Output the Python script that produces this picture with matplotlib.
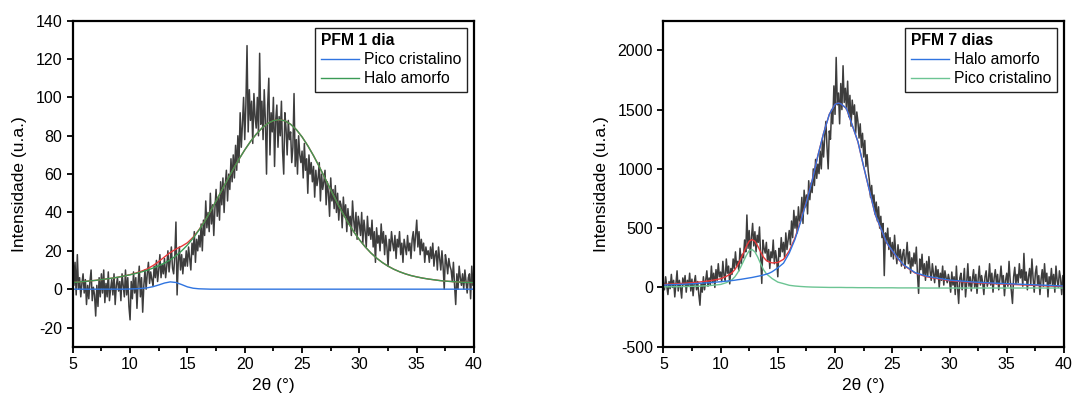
import numpy as np
import matplotlib.pyplot as plt

plt.rcParams['font.family'] = ['Liberation Sans', 'DejaVu Sans']
plt.rcParams['axes.unicode_minus'] = False

# ---- PFM 1 dia : raw pattern, 5-40 deg, step 0.1 ----
data1 = [
    22, 2, 14, -3, 18, 0, 6, -4, 3, 8,
    -2, 5, -8, 2, -5, 4, 10, -6, 1, -3,
    -14, 2, -9, 6, -4, 8, -2, 10, -7, 3,
    -4, 9, -6, 0, 5, -3, 8, -8, 2, 6,
    -1, 4, -6, 8, 2, -4, 10, -3, 6, -9,
    -16, 4, -5, 9, -2, 6, -10, 3, 12, -4,
    6, -12, 2, 10, 0, 8, 14, 3, 9, 5,
    2, 12, 6, 15, 4, 10, 18, 6, 13, 8,
    16, 6, 12, 20, 9, 15, 22, 11, 8, 17,
    35, -3, 14, 22, 10, 18, 8, 16, 12, 20,
    12, 22, 16, 10, 24, 18, 30, 14, 26, 20,
    28, 22, 34, 20, 36, 28, 46, 32, 40, 30,
    50, 34, 44, 28, 42, 52, 38, 48, 36, 56,
    44, 58, 40, 54, 62, 46, 60, 52, 68, 56,
    70, 58, 75, 62, 80, 66, 92, 74, 86, 100,
    78, 96, 127, 82, 104, 88, 98, 76, 102, 90,
    84, 100, 80, 123, 86, 98, 78, 104, 88, 60,
    96, 110, 70, 92, 82, 100, 64, 88, 96, 74,
    90, 80, 98, 72, 60, 92, 84, 70, 88, 78,
    82, 66, 74, 102, 64, 78, 60, 80, 70, 66,
    72, 58, 76, 62, 68, 50, 70, 60, 66, 56,
    64, 48, 62, 54, 58, 66, 46, 60, 52, 56,
    62, 44, 56, 50, 38, 58, 46, 52, 42, 54,
    40, 50, 36, 46, 44, 32, 48, 38, 44, 30,
    42, 34, 38, 28, 46, 36, 30, 40, 26, 38,
    34, 28, 40, 24, 36, 30, 22, 38, 28, 32,
    26, 36, 22, 30, 14, 32, 24, 28, 20, 34,
    24, 30, 18, 28, 22, 12, 26, 20, 30, 24,
    20, 28, 16, 26, 22, 30, 18, 24, 14, 26,
    22, 18, 28, 20, 24, 16, 26, 30, 20, 28,
    36, 22, 30, 18, 26, 20, 24, 14, 22, 18,
    20, 14, 22, 16, 24, 12, 18, 20, 10, 22,
    16, 10, 20, 12, 0, 18, 14, 8, 16, 12,
    10, 4, 14, 2, -8, 8, 0, 12, 6, 2,
    8, 0, 10, 4, -2, 6, 8, -5, 12, 2,
    10,
]

# fitted components, 5-40 deg, step 0.5
fit1_halo = [
    3.5, 3.7, 4.0, 4.3, 4.6, 5.0, 5.4, 5.8, 6.3, 6.9,
    7.5, 8.2, 9.0, 9.9, 11.0, 12.2, 13.6, 15.3, 17.4, 20.0,
    23.0, 26.6, 30.7, 35.3, 40.5, 46.0, 51.6, 57.2, 62.6, 67.8,
    72.6, 77.0, 80.8, 84.0, 86.4, 87.9, 88.4, 87.8, 86.0, 83.2,
    79.4, 74.8, 69.6, 63.9, 57.9, 51.8, 45.8, 40.1, 34.8, 30.0,
    25.8, 22.1, 18.9, 16.2, 13.9, 12.0, 10.4, 9.1, 8.0, 7.1,
    6.4, 5.8, 5.3, 4.9, 4.5, 4.2, 4.0, 3.8, 3.6, 3.5,
    3.4,
]
fit1_pico = [
    0, 0, 0, 0, 0, 0, 0, 0, 0, 0,
    0.1, 0.2, 0.4, 0.7, 1.3, 2.2, 3.2, 3.8, 3.5, 2.4,
    1.2, 0.5, 0.2, 0.1, 0, 0, 0, 0, 0, 0,
    0, 0, 0, 0, 0, 0, 0, 0, 0, 0,
    0, 0, 0, 0, 0, 0, 0, 0, 0, 0,
    0, 0, 0, 0, 0, 0, 0, 0, 0, 0,
    0, 0, 0, 0, 0, 0, 0, 0, 0, 0,
    0,
]

# ---- PFM 7 dias : raw pattern, 5-40 deg, step 0.1 ----
data7 = [
    40, -20, 90, 10, -60, 50, -10, 110, 0, 60,
    -80, 30, 140, -30, 60, 0, -90, 80, 20, 100,
    -40, 60, 10, 120, -30, 70, -70, 40, 100, -20,
    50, -60, -150, 30, -40, 90, -20, 60, 140, 10,
    80, 20, 180, 40, 120, 0, 150, 60, 200, 90,
    130, 50, 220, 100, 60, 240, 120, 180, 30, 160,
    110, 240, 160, 300, 180, 220, 140, 330, 200, 280,
    250, 400, 300, 611, 330, 480, 260, 420, 540, 350,
    470, 300, 440, 380, 510, 260, 34, 400, 330, 290,
    380, 220, 320, 160, 300, 250, 400, 200, 310, 240,
    90, 330, 260, 420, 300, 380, 250, 460, 320, 400,
    480, 360, 560, 420, 650, 500, 600, 460, 680, 560,
    600, 760, 540, 820, 680, 780, 620, 900, 740, 880,
    800, 1000, 860, 1080, 920, 1040, 960, 1150, 1000, 1240,
    1100, 1280, 1400, 1180, 1000, 1320, 1250, 1500, 1380, 1700,
    1460, 1940, 1540, 1640, 1380, 1720, 1500, 1870, 1560, 1680,
    1500, 1740, 1440, 1620, 1360, 1580, 1460, 1540, 1300, 1480,
    1400, 1260, 1380, 1180, 1300, 1100, 1240, 1020, 1120, 980,
    900, 760, 860, 700, 780, 620, 720, 560, 680, 500,
    600, 420, 540, 100, 460, 380, 500, 320, 420, 260,
    380, 240, 440, 300, 200, 360, 250, 320, 180, 280,
    320, 160, 260, 380, 200, 300, 120, 250, 180, 290,
    200, 340, 110, -50, 240, 150, 280, 100, 200, 60,
    220, 100, 260, 140, 60, 200, 120, 40, 180, 90,
    150, 0, 120, 60, 180, 20, 140, 80, 40, 110,
    60, -40, 130, 20, 90, -60, 180, 0, -135, 80,
    120, -20, 60, 160, -80, 40, 200, 10, 90, -30,
    70, 150, 0, 110, -50, 60, 180, 20, 100, 40,
    -60, 90, 140, 10, 60, 200, 20, 120, -40, 80,
    150, 30, 110, -20, 70, 180, 40, 100, -70, 60,
    120, 10, 220, 60, -30, -135, 90, 170, 30, 110,
    40, 200, 80, 150, 10, 287, 60, 130, -20, 90,
    160, 30, 240, 80, -40, 120, 180, 20, 100, -60,
    70, 150, 10, 200, 50, 120, -80, 90, 30, 160,
    20, 110, -40, 180, 60, 0, 140, 80, -60, 100,
    40,
]

fit7_x = [5, 6, 7, 8, 9, 10, 10.5, 11, 11.25, 11.5, 11.75, 12, 12.25, 12.5,
          12.75, 13, 13.25, 13.5, 13.75, 14, 14.25, 14.5, 15, 15.5, 16, 16.5,
          17, 17.5, 18, 18.5, 19, 19.5, 20, 20.3, 20.5, 21, 21.5, 22, 22.5,
          23, 23.5, 24, 24.5, 25, 25.5, 26, 27, 28, 29, 30, 32, 34, 36, 38, 40]
fit7_halo = [20, 24, 28, 34, 40, 48, 53, 58, 61, 65, 68, 72, 76, 80,
             84, 89, 94, 99, 105, 112, 120, 132, 165, 205, 290, 405,
             555, 720, 900, 1110, 1300, 1460, 1545, 1555, 1550, 1510, 1370, 1230, 1020,
             820, 620, 500, 380, 310, 245, 190, 125, 95, 78, 62, 46, 36, 28, 20, 12]
fit7_pico = [5, 6, 8, 10, 15, 25, 40, 65, 90, 125, 170, 220, 270, 310,
             320, 300, 255, 200, 150, 115, 95, 75, 45, 32, 18, 12,
             8, 5, 3, 2, 1, 0, 0, 0, 0, -1, -1, -2, -2,
             -2, -3, -3, -3, -3, -4, -4, -4, -5, -5, -5, -5, -5, -5, -5, -5]

x_data = np.linspace(5, 40, len(data1))
x_fit1 = np.linspace(5, 40, len(fit1_halo))

gray = '#3d3d3d'
red = '#e8383a'
blue = '#2f74e0'
green1 = '#3a9a55'
green7 = '#6cc493'

fig = plt.figure(figsize=(10.73, 4.01), dpi=100)
ax1 = fig.add_axes([0.0678, 0.1354, 0.374, 0.813])
ax2 = fig.add_axes([0.6182, 0.1354, 0.3734, 0.813])

# panel 1
ax1.plot(x_data, data1, color=gray, lw=1.1)
ax1.plot(x_fit1, np.array(fit1_halo) + np.array(fit1_pico), color=red, lw=1.0)
ax1.plot(x_fit1, fit1_halo, color=green1, lw=1.0, label='Halo amorfo')
ax1.plot(x_fit1, fit1_pico, color=blue, lw=1.0, label='Pico cristalino')
ax1.set_ylim(-30, 140)
ax1.set_yticks(np.arange(-20, 141, 20))

# panel 2
ax2.plot(x_data, data7, color=gray, lw=1.1)
ax2.plot(fit7_x, np.array(fit7_halo) + np.array(fit7_pico), color=red, lw=1.0)
ax2.plot(fit7_x, fit7_pico, color=green7, lw=1.0, label='Pico cristalino')
ax2.plot(fit7_x, fit7_halo, color=blue, lw=1.0, label='Halo amorfo')
ax2.set_ylim(-500, 2250)
ax2.set_yticks(np.arange(-500, 2001, 500))

for ax, title, order in [(ax1, 'PFM 1 dia', ['Pico cristalino', 'Halo amorfo']),
                         (ax2, 'PFM 7 dias', ['Halo amorfo', 'Pico cristalino'])]:
    ax.set_xlim(5, 40)
    ax.set_xticks(np.arange(5, 41, 5))
    ax.set_xticks(np.arange(7.5, 40, 5), minor=True)
    ax.tick_params(axis='both', which='major', direction='out', length=4, width=1.3,
                   labelsize=11.5, top=False, right=False)
    ax.tick_params(axis='x', which='minor', direction='out', length=3, width=1.3)
    for s in ax.spines.values():
        s.set_linewidth(1.6)
    ax.set_xlabel('2θ (°)', fontsize=12.5, labelpad=4)
    ax.set_ylabel('Intensidade (u.a.)', fontsize=12.5, labelpad=6)

    handles, labels = ax.get_legend_handles_labels()
    hmap = dict(zip(labels, handles))
    leg = ax.legend([hmap[k] for k in order], order, title=title, loc='upper right',
                    fontsize=11.3, title_fontproperties={'weight': 'bold', 'size': 11.3},
                    frameon=True, fancybox=False, edgecolor='#222222', framealpha=1,
                    borderpad=0.35, handlelength=2.4, handletextpad=0.35,
                    labelspacing=0.25, borderaxespad=0.45, alignment='left')
    leg.get_frame().set_linewidth(1.0)

fig.savefig('out.png', dpi=100)
